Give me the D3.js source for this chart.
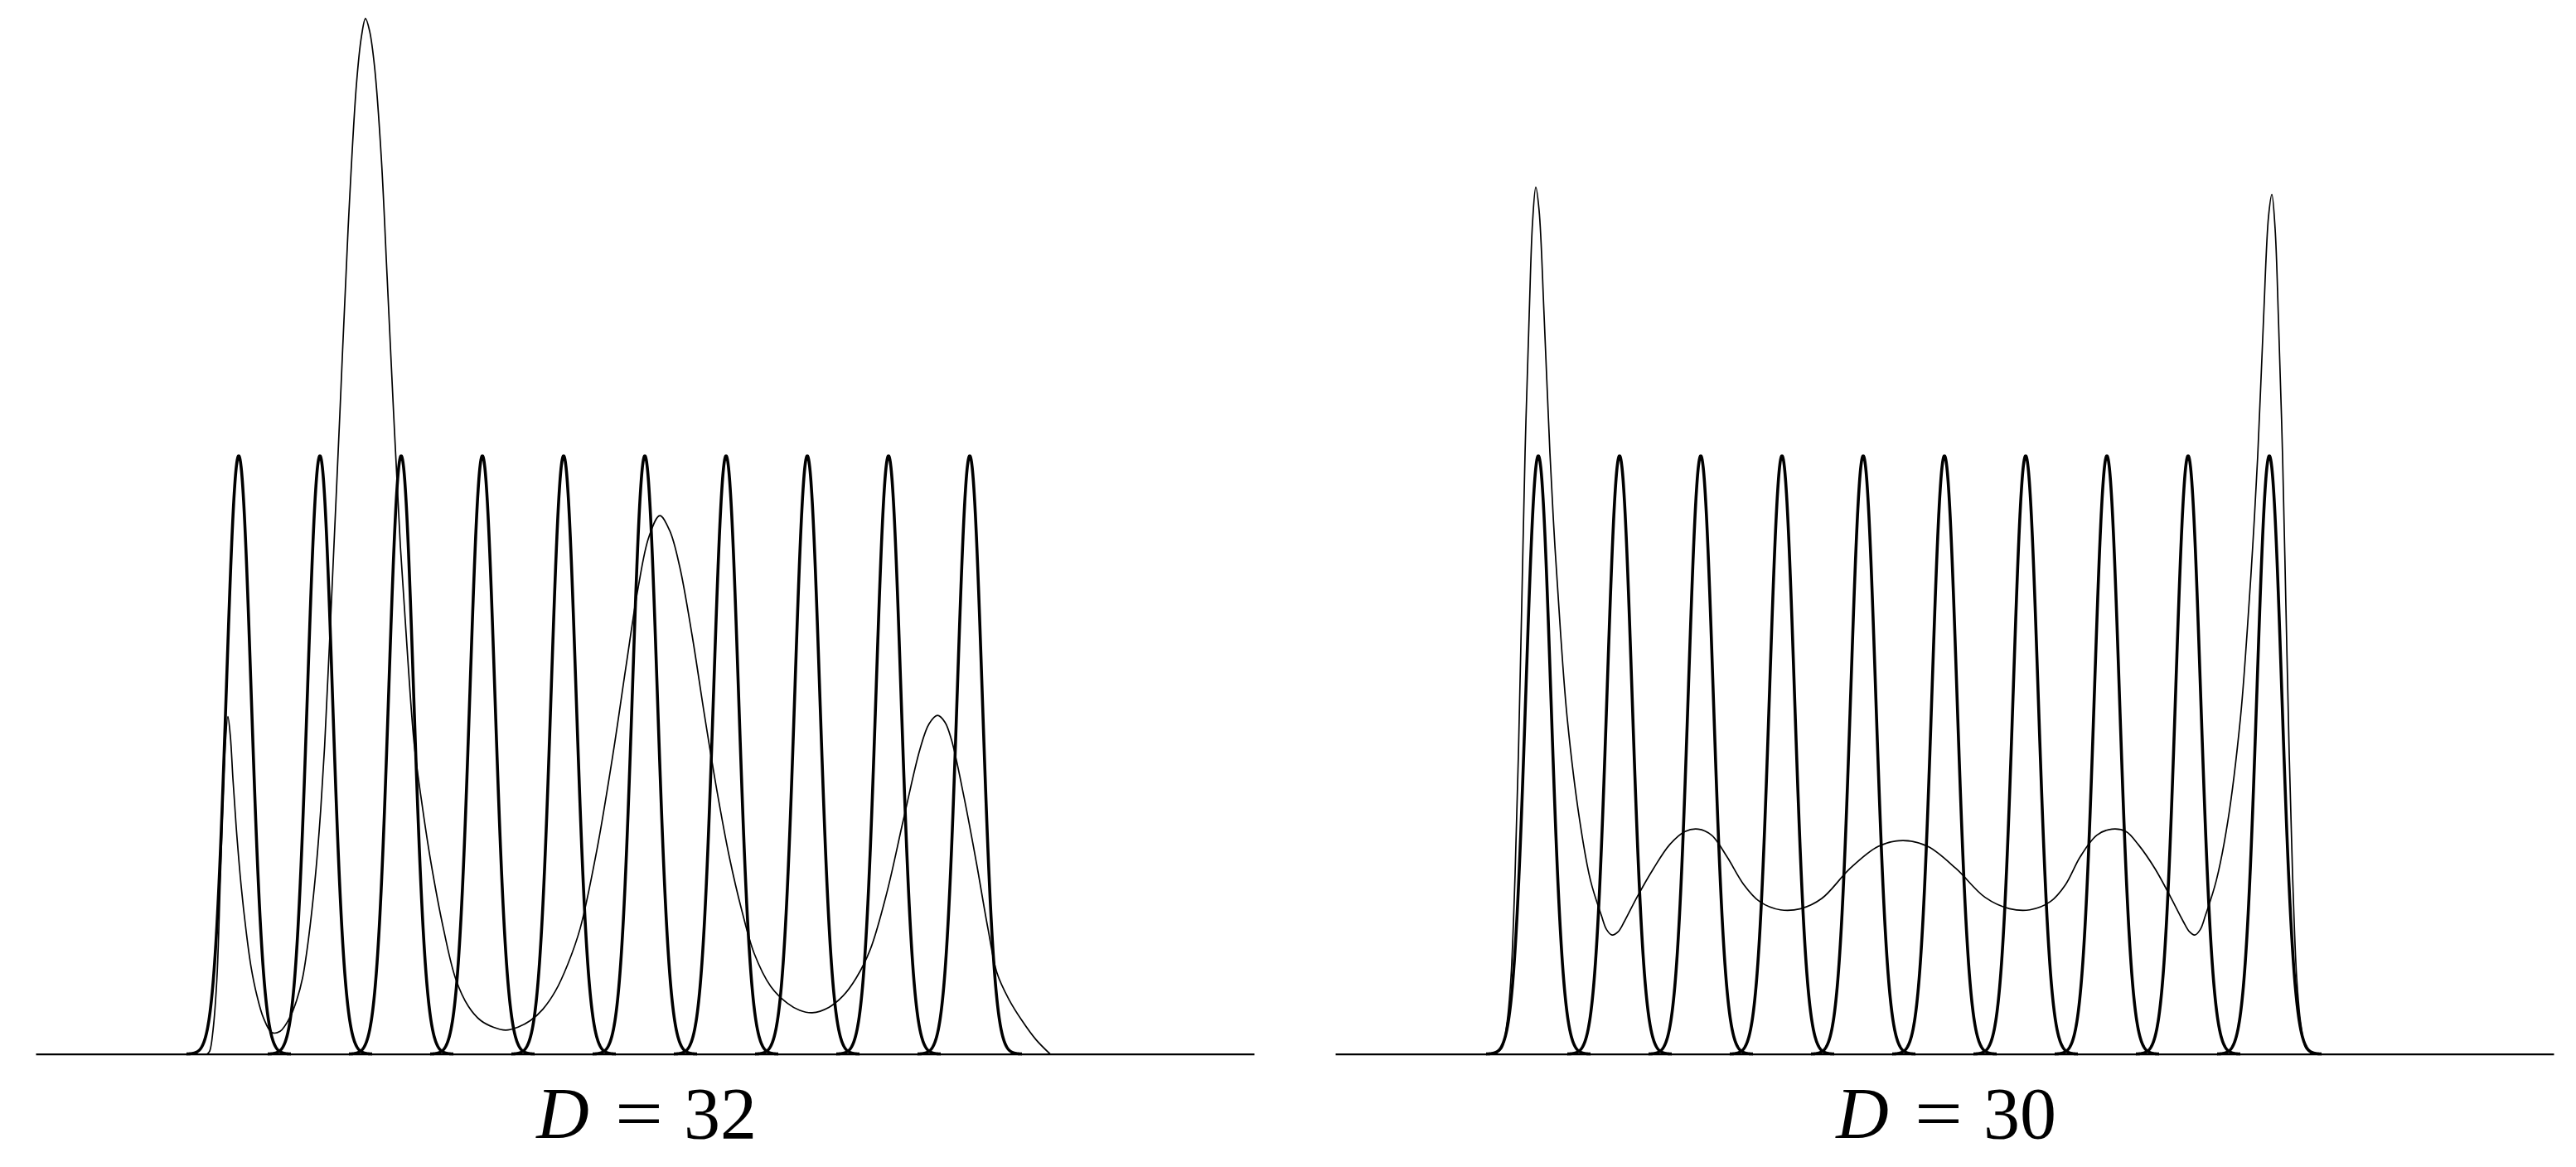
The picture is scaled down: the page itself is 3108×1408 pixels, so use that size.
<!DOCTYPE html>
<html>
<head>
<meta charset="utf-8">
<script src="https://cdn.jsdelivr.net/npm/d3@7"></script>
<style>
  html, body { margin: 0; padding: 0; background: #fff; }
  svg { display: block; }
</style>
</head>
<body>
<svg id="chart" width="3108" height="1408"></svg>
<script>
// ---------- DATA ----------
// panel labels
const panelLabels = ["32", "30"];

// centres of the ten narrow (thick) peaks, in units of the peak spacing
const peakCenters = [2.5, 3.5, 4.5, 5.5, 6.5, 7.5, 8.5, 9.5, 10.5, 11.5];
const peakHeight = 1.0;
const peakWidth = 0.153;   // gaussian sigma, same units as centres

// thin curve, panel D = 32 : position
const thinX32 = [2.112, 2.143, 2.184, 2.232, 2.276, 2.334, 2.367, 2.398, 2.429, 2.469,
  2.531, 2.592, 2.653, 2.724, 2.806, 2.908, 3.010, 3.133, 3.214, 3.286,
  3.357, 3.439, 3.500, 3.558, 3.643, 3.745, 3.847, 3.949, 4.010, 4.061,
  4.112, 4.173, 4.255, 4.327, 4.408, 4.490, 4.582, 4.663, 4.765, 4.867,
  5.020, 5.173, 5.327, 5.480, 5.633, 5.786, 5.939, 6.092, 6.245, 6.398,
  6.551, 6.704, 6.908, 7.112, 7.265, 7.418, 7.551, 7.684, 7.806, 7.929,
  8.082, 8.235, 8.388, 8.541, 8.694, 8.847, 9.051, 9.255, 9.408, 9.561,
  9.765, 9.939, 10.102, 10.276, 10.480, 10.684, 10.888, 11.000, 11.102, 11.194,
  11.276, 11.429, 11.582, 11.724, 11.837, 11.980, 12.143, 12.316, 12.490];
// thin curve, panel D = 32 : value
const thinY32 = [0, 0.005, 0.04, 0.127, 0.30, 0.515, 0.564, 0.53, 0.46, 0.38,
  0.28, 0.205, 0.145, 0.098, 0.06, 0.036, 0.038, 0.062, 0.09, 0.127,
  0.19, 0.29, 0.39, 0.515, 0.76, 1.069, 1.38, 1.62, 1.70, 1.731,
  1.71, 1.65, 1.50, 1.30, 1.069, 0.85, 0.66, 0.515, 0.41, 0.32,
  0.21, 0.125, 0.08, 0.056, 0.045, 0.040, 0.045, 0.056, 0.075, 0.105,
  0.15, 0.21, 0.34, 0.505, 0.645, 0.78, 0.865, 0.90, 0.875, 0.815,
  0.70, 0.566, 0.44, 0.329, 0.24, 0.168, 0.113, 0.085, 0.073, 0.069,
  0.078, 0.097, 0.127, 0.175, 0.27, 0.392, 0.51, 0.552, 0.566, 0.555,
  0.525, 0.43, 0.32, 0.21, 0.135, 0.092, 0.056, 0.024, 0];

// thin curve, panel D = 30 : position
const thinX30 = [1.959, 2.051, 2.112, 2.163, 2.214, 2.255, 2.296, 2.337, 2.388, 2.429,
  2.469, 2.510, 2.571, 2.643, 2.704, 2.776, 2.857, 3.010, 3.143, 3.276,
  3.341, 3.408, 3.480, 3.561, 3.714, 3.918, 4.117, 4.306, 4.469, 4.633,
  4.822, 5.031, 5.224, 5.480, 5.731, 5.990, 6.337, 6.684, 6.990, 7.296,
  7.643, 8.000, 8.301, 8.551, 8.806, 8.990, 9.173, 9.377, 9.561, 9.735,
  9.888, 10.092, 10.286, 10.439, 10.520, 10.582, 10.649, 10.714, 10.847, 10.990,
  11.143, 11.224, 11.296, 11.357, 11.429, 11.490, 11.531, 11.571, 11.612, 11.663,
  11.704, 11.745, 11.786, 11.837, 11.888, 11.949, 12.041];
// thin curve, panel D = 30 : value
const thinY30 = [0, 0.01, 0.05, 0.127, 0.30, 0.50, 0.75, 1.005, 1.236, 1.39,
  1.449, 1.41, 1.236, 1.005, 0.85, 0.70, 0.56, 0.39, 0.29, 0.232,
  0.208, 0.199, 0.204, 0.222, 0.262, 0.31, 0.35, 0.372, 0.376, 0.366,
  0.33, 0.283, 0.255, 0.241, 0.243, 0.26, 0.31, 0.347, 0.357, 0.347,
  0.31, 0.262, 0.243, 0.241, 0.255, 0.283, 0.33, 0.366, 0.376, 0.372,
  0.35, 0.31, 0.262, 0.222, 0.204, 0.199, 0.208, 0.232, 0.29, 0.39,
  0.56, 0.70, 0.85, 1.0, 1.23, 1.40, 1.437, 1.38, 1.23, 1.0,
  0.75, 0.5, 0.3, 0.127, 0.05, 0.01, 0];

const xDomain = [0, 15];
const yDomain = [0, 1];

// ---------- DRAWING ----------
const svg = d3.select("#chart");
svg.append("rect").attr("width", 3108).attr("height", 1408).attr("fill", "#fff");

const panels = [
  { label: panelLabels[0], left: 43, right: 1513, xs: thinX32, ys: thinY32 },
  { label: panelLabels[1], left: 1611, right: 3081, xs: thinX30, ys: thinY30 }
];
const baseY = 1271.7, topY = 550;

panels.forEach(p => {
  const g = svg.append("g");
  const x = d3.scaleLinear().domain(xDomain).range([p.left, p.right]);
  const y = d3.scaleLinear().domain(yDomain).range([baseY, topY]);

  // axis line (no ticks)
  const axis = d3.axisBottom(x).tickValues([]).tickSizeOuter(0);
  const ax = g.append("g").attr("transform", `translate(0,${baseY})`).call(axis);
  ax.select(".domain").attr("stroke", "#000").attr("stroke-width", 2.2);

  // thick gaussian peaks
  const line = d3.line().x(d => x(d[0])).y(d => y(d[1]));
  peakCenters.forEach(c => {
    const pts = d3.range(-4.2, 4.2001, 0.02).map(t => {
      const u = c + t * peakWidth;
      return [u, peakHeight * Math.exp(-t * t / 2)];
    });
    g.append("path").attr("d", line(pts))
      .attr("fill", "none").attr("stroke", "#000")
      .attr("stroke-width", 3.6).attr("stroke-linejoin", "round");
  });

  // thin curve
  const thin = d3.line().x(d => x(d[0])).y(d => y(d[1])).curve(d3.curveCatmullRom.alpha(0.5));
  const tpts = p.xs.map((v, i) => [v, p.ys[i]]);
  g.append("path").attr("d", thin(tpts))
    .attr("fill", "none").attr("stroke", "#000")
    .attr("stroke-width", 1.7).attr("stroke-linejoin", "round");

  // label  "D = nn"
  const cx = (p.left + p.right) / 2;
  const fs = 88;
  const lab = g.append("g").attr("font-family", "'Liberation Serif', 'DejaVu Serif', serif")
    .attr("font-size", fs).attr("fill", "#000");
  lab.append("text").attr("x", cx - 99).attr("y", 1373).attr("text-anchor", "middle")
    .attr("font-style", "italic").text("D");
  lab.append("text").attr("x", cx - 36).attr("y", 1373)
    .attr("textLength", 58).attr("lengthAdjust", "spacingAndGlyphs").text("=");
  lab.append("text").attr("x", cx + 91).attr("y", 1373).attr("text-anchor", "middle").text(p.label);
});
</script>
</body>
</html>
